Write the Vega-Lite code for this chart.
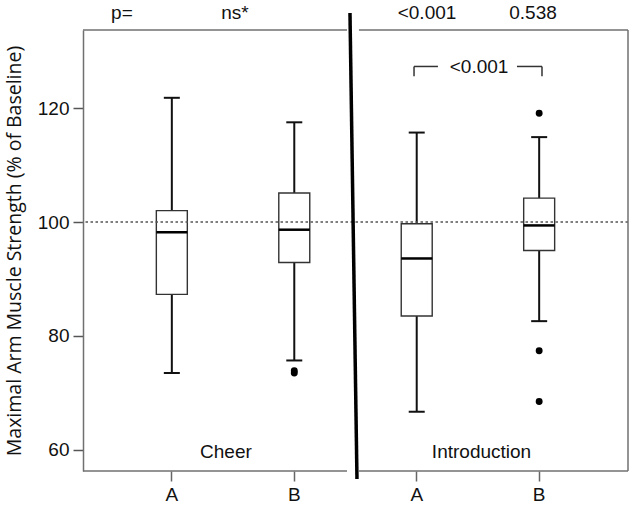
{
  "$schema": "https://vega.github.io/schema/vega-lite/v6.json",
  "width": 545,
  "height": 441,
  "autosize": "none",
  "padding": {"left": 83, "top": 30, "right": 5, "bottom": 37},
  "background": "white",
  "config": {"view": {"stroke": null}, "font": "Liberation Sans"},
  "datasets": {
    "boxes": [
      {"group": "Cheer A", "lower": 73.5, "q1": 87.3, "median": 98.2, "q3": 102.0, "upper": 121.8},
      {"group": "Cheer B", "lower": 75.7, "q1": 92.9, "median": 98.65, "q3": 105.1, "upper": 117.5},
      {"group": "Introduction A", "lower": 66.7, "q1": 83.5, "median": 93.6, "q3": 99.7, "upper": 115.7},
      {"group": "Introduction B", "lower": 82.6, "q1": 95.0, "median": 99.4, "q3": 104.2, "upper": 114.9}
    ],
    "outliers": [
      {"group": "Cheer B", "value": 73.9},
      {"group": "Cheer B", "value": 73.5},
      {"group": "Introduction B", "value": 119.1},
      {"group": "Introduction B", "value": 77.4},
      {"group": "Introduction B", "value": 68.5}
    ],
    "one": [{}]
  },
  "layer": [
    {
      "layer": [
        {
          "data": {"name": "boxes"},
          "mark": {"type": "rule", "color": "#111", "strokeWidth": 2},
          "encoding": {
            "x": {
              "field": "group", "type": "nominal", "sort": null,
              "scale": {"domain": ["Cheer A", "Cheer B", "Introduction A", "Introduction B"], "paddingInner": 0.747, "paddingOuter": 0.599},
              "axis": {"title": null, "labelExpr": "slice(datum.label, -1)", "labelAngle": 0, "domain": false, "ticks": true, "tickSize": 10, "tickColor": "#666", "tickWidth": 1.5, "labelFontSize": 19, "labelFont": "Liberation Sans", "labelColor": "#111", "labelPadding": 4, "grid": false}
            },
            "y": {
              "field": "lower", "type": "quantitative",
              "scale": {"domain": [56.3, 133.7], "nice": false, "zero": false},
              "axis": {"title": "Maximal Arm Muscle Strength (% of Baseline)", "values": [60, 80, 100, 120], "grid": false, "domain": true, "domainColor": "#707070", "domainWidth": 1.5, "tickSize": 10, "tickColor": "#555", "tickWidth": 1.5, "labelFontSize": 19, "labelFont": "Liberation Sans", "labelColor": "#111", "labelPadding": 4, "titleFont": "Open Sans", "titleFontSize": 19.5, "titleFontWeight": "normal", "titleColor": "#111", "titlePadding": 13}
            },
            "y2": {"field": "upper"}
          }
        },
        {
          "data": {"name": "boxes"},
          "mark": {"type": "bar", "fill": "white", "stroke": "#333", "strokeWidth": 1.4},
          "encoding": {
            "x": {"field": "group", "type": "nominal", "sort": null},
            "y": {"field": "q1", "type": "quantitative"},
            "y2": {"field": "q3"}
          }
        },
        {
          "data": {"name": "boxes"},
          "mark": {"type": "tick", "color": "#000", "opacity": 1, "thickness": 2.5, "size": 31},
          "encoding": {
            "x": {"field": "group", "type": "nominal", "sort": null},
            "y": {"field": "median", "type": "quantitative"}
          }
        },
        {
          "data": {"name": "boxes"},
          "mark": {"type": "tick", "color": "#111", "opacity": 1, "thickness": 2, "size": 16},
          "encoding": {
            "x": {"field": "group", "type": "nominal", "sort": null},
            "y": {"field": "upper", "type": "quantitative"}
          }
        },
        {
          "data": {"name": "boxes"},
          "mark": {"type": "tick", "color": "#111", "opacity": 1, "thickness": 2, "size": 16},
          "encoding": {
            "x": {"field": "group", "type": "nominal", "sort": null},
            "y": {"field": "lower", "type": "quantitative"}
          }
        },
        {
          "data": {"name": "outliers"},
          "mark": {"type": "point", "filled": true, "color": "#000", "opacity": 1, "size": 48},
          "encoding": {
            "x": {"field": "group", "type": "nominal", "sort": null},
            "y": {"field": "value", "type": "quantitative"}
          }
        }
      ]
    },
    {
      "data": {"name": "one"},
      "mark": {"type": "rule", "color": "#555", "strokeWidth": 1.5, "strokeDash": [2.5, 2.5]},
      "encoding": {"y": {"datum": 100, "type": "quantitative"}}
    },
    {
      "data": {"name": "one"},
      "mark": {"type": "rule", "color": "#707070", "strokeWidth": 1.5},
      "encoding": {
        "x": {"datum": 0.275, "type": "quantitative", "scale": {"domain": [0.275, 4.717], "nice": false, "zero": false}, "axis": null},
        "x2": {"datum": 2.427},
        "y": {"datum": 133.7, "type": "quantitative"}
      }
    },
    {
      "data": {"name": "one"},
      "mark": {"type": "rule", "color": "#707070", "strokeWidth": 1.5},
      "encoding": {
        "x": {"datum": 2.524, "type": "quantitative", "scale": {"domain": [0.275, 4.717], "nice": false, "zero": false}, "axis": null},
        "x2": {"datum": 4.717},
        "y": {"datum": 133.7, "type": "quantitative"}
      }
    },
    {
      "data": {"name": "one"},
      "mark": {"type": "rule", "color": "#707070", "strokeWidth": 1.5},
      "encoding": {
        "x": {"datum": 0.275, "type": "quantitative", "scale": {"domain": [0.275, 4.717], "nice": false, "zero": false}, "axis": null},
        "x2": {"datum": 2.427},
        "y": {"datum": 56.3, "type": "quantitative"}
      }
    },
    {
      "data": {"name": "one"},
      "mark": {"type": "rule", "color": "#707070", "strokeWidth": 1.5},
      "encoding": {
        "x": {"datum": 2.524, "type": "quantitative", "scale": {"domain": [0.275, 4.717], "nice": false, "zero": false}, "axis": null},
        "x2": {"datum": 4.717},
        "y": {"datum": 56.3, "type": "quantitative"}
      }
    },
    {
      "data": {"name": "one"},
      "mark": {"type": "rule", "color": "#707070", "strokeWidth": 1.5},
      "encoding": {
        "x": {"datum": 4.717, "type": "quantitative", "scale": {"domain": [0.275, 4.717], "nice": false, "zero": false}, "axis": null},
        "y": {"datum": 56.3, "type": "quantitative"},
        "y2": {"datum": 133.7}
      }
    },
    {
      "data": {"name": "one"},
      "mark": {"type": "rule", "color": "#000", "strokeWidth": 3.5},
      "encoding": {
        "x": {"datum": 2.451, "type": "quantitative", "scale": {"domain": [0.275, 4.717], "nice": false, "zero": false}, "axis": null},
        "x2": {"datum": 2.508},
        "y": {"datum": 136.7, "type": "quantitative"},
        "y2": {"datum": 54.9}
      }
    },
    {
      "data": {"name": "one"},
      "mark": {"type": "rule", "color": "#333", "strokeWidth": 1.5},
      "encoding": {
        "x": {"datum": 2.973, "type": "quantitative", "scale": {"domain": [0.275, 4.717], "nice": false, "zero": false}, "axis": null},
        "x2": {"datum": 3.168},
        "y": {"datum": 127.3, "type": "quantitative"}
      }
    },
    {
      "data": {"name": "one"},
      "mark": {"type": "rule", "color": "#333", "strokeWidth": 1.5},
      "encoding": {
        "x": {"datum": 3.812, "type": "quantitative", "scale": {"domain": [0.275, 4.717], "nice": false, "zero": false}, "axis": null},
        "x2": {"datum": 4.016},
        "y": {"datum": 127.3, "type": "quantitative"}
      }
    },
    {
      "data": {"name": "one"},
      "mark": {"type": "rule", "color": "#333", "strokeWidth": 1.5},
      "encoding": {
        "x": {"datum": 2.973, "type": "quantitative", "scale": {"domain": [0.275, 4.717], "nice": false, "zero": false}, "axis": null},
        "y": {"datum": 127.3, "type": "quantitative"},
        "y2": {"datum": 125.6}
      }
    },
    {
      "data": {"name": "one"},
      "mark": {"type": "rule", "color": "#333", "strokeWidth": 1.5},
      "encoding": {
        "x": {"datum": 4.016, "type": "quantitative", "scale": {"domain": [0.275, 4.717], "nice": false, "zero": false}, "axis": null},
        "y": {"datum": 127.3, "type": "quantitative"},
        "y2": {"datum": 125.6}
      }
    },
    {
      "data": {"name": "one"},
      "mark": {"type": "text", "text": "<0.001", "fontSize": 19, "font": "Liberation Sans", "color": "#111", "align": "center", "baseline": "middle"},
      "encoding": {
        "x": {"datum": 3.503, "type": "quantitative", "scale": {"domain": [0.275, 4.717], "nice": false, "zero": false}, "axis": null},
        "y": {"datum": 127.2, "type": "quantitative"}
      }
    },
    {
      "data": {"name": "one"},
      "mark": {"type": "text", "text": "p=", "fontSize": 19, "font": "Liberation Sans", "color": "#111", "align": "center", "baseline": "alphabetic"},
      "encoding": {
        "x": {"datum": 0.592, "type": "quantitative", "scale": {"domain": [0.275, 4.717], "nice": false, "zero": false}, "axis": null},
        "y": {"datum": 135.7, "type": "quantitative"}
      }
    },
    {
      "data": {"name": "one"},
      "mark": {"type": "text", "text": "ns*", "fontSize": 19, "font": "Liberation Sans", "color": "#111", "align": "center", "baseline": "alphabetic"},
      "encoding": {
        "x": {"datum": 1.514, "type": "quantitative", "scale": {"domain": [0.275, 4.717], "nice": false, "zero": false}, "axis": null},
        "y": {"datum": 135.7, "type": "quantitative"}
      }
    },
    {
      "data": {"name": "one"},
      "mark": {"type": "text", "text": "<0.001", "fontSize": 19, "font": "Liberation Sans", "color": "#111", "align": "center", "baseline": "alphabetic"},
      "encoding": {
        "x": {"datum": 3.079, "type": "quantitative", "scale": {"domain": [0.275, 4.717], "nice": false, "zero": false}, "axis": null},
        "y": {"datum": 135.7, "type": "quantitative"}
      }
    },
    {
      "data": {"name": "one"},
      "mark": {"type": "text", "text": "0.538", "fontSize": 19, "font": "Liberation Sans", "color": "#111", "align": "center", "baseline": "alphabetic"},
      "encoding": {
        "x": {"datum": 3.943, "type": "quantitative", "scale": {"domain": [0.275, 4.717], "nice": false, "zero": false}, "axis": null},
        "y": {"datum": 135.7, "type": "quantitative"}
      }
    },
    {
      "data": {"name": "one"},
      "mark": {"type": "text", "text": "Cheer", "fontSize": 19, "font": "Liberation Sans", "color": "#111", "align": "center", "baseline": "alphabetic"},
      "encoding": {
        "x": {"datum": 1.44, "type": "quantitative", "scale": {"domain": [0.275, 4.717], "nice": false, "zero": false}, "axis": null},
        "y": {"datum": 58.6, "type": "quantitative"}
      }
    },
    {
      "data": {"name": "one"},
      "mark": {"type": "text", "text": "Introduction", "fontSize": 19, "font": "Liberation Sans", "color": "#111", "align": "center", "baseline": "alphabetic"},
      "encoding": {
        "x": {"datum": 3.523, "type": "quantitative", "scale": {"domain": [0.275, 4.717], "nice": false, "zero": false}, "axis": null},
        "y": {"datum": 58.6, "type": "quantitative"}
      }
    }
  ],
  "resolve": {"scale": {"x": "independent"}}
}
